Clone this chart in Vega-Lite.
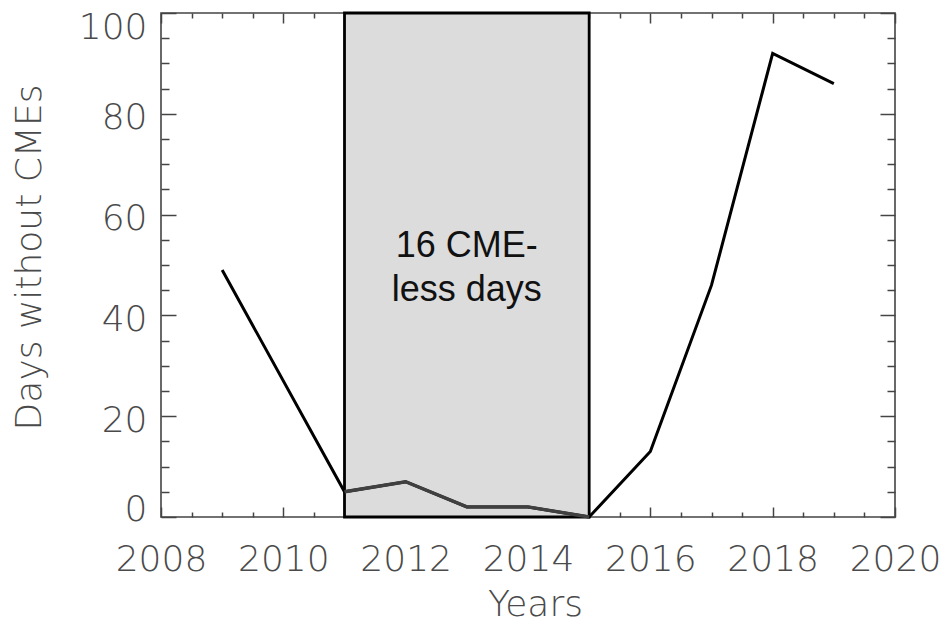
{
  "$schema": "https://vega.github.io/schema/vega-lite/v6.json",
  "width": 734,
  "height": 504,
  "autosize": "none",
  "padding": {"left": 161, "top": 13, "right": 51, "bottom": 106},
  "background": "white",
  "config": {
    "view": {"stroke": "#444444", "strokeWidth": 1.6},
    "axis": {
      "labelFont": "DejaVu Sans",
      "titleFont": "DejaVu Sans",
      "labelFontWeight": 200,
      "titleFontWeight": 200,
      "labelFontSize": 36,
      "titleFontSize": 36,
      "labelColor": "#4a4a4a",
      "titleColor": "#4a4a4a",
      "grid": false,
      "domain": false,
      "tickColor": "#444444",
      "tickWidth": 1.5,
      "zindex": 1
    }
  },
  "datasets": {
    "cmeless": [
      {"year": 2009, "days": 49},
      {"year": 2011, "days": 5},
      {"year": 2012, "days": 7},
      {"year": 2013, "days": 2},
      {"year": 2014, "days": 2},
      {"year": 2015, "days": 0},
      {"year": 2016, "days": 13},
      {"year": 2017, "days": 46},
      {"year": 2018, "days": 92},
      {"year": 2019, "days": 86}
    ],
    "window": [
      {"start": 2011, "end": 2015, "low": 0, "high": 100}
    ],
    "note": [
      {"year": 2013, "days": 51.6, "label": ["16 CME-", "less days"]}
    ]
  },
  "layer": [
    {
      "data": {"name": "window"},
      "mark": {"type": "rect", "fill": "#dcdcdc", "stroke": "#000000", "strokeWidth": 2.8},
      "encoding": {
        "x": {
          "field": "start", "type": "quantitative",
          "scale": {"domain": [2008, 2020], "nice": false, "zero": false},
          "axis": {
            "orient": "bottom", "title": "Years",
            "values": [2008, 2010, 2012, 2014, 2016, 2018, 2020],
            "format": "d", "tickSize": 10, "offset": -10, "labelPadding": 53,
            "labelBaseline": "alphabetic", "labelFlush": false,
            "titleX": 374, "titleY": 108, "titleAlign": "center",
            "titleBaseline": "alphabetic", "titleAnchor": null
          }
        },
        "x2": {"field": "end"},
        "y": {
          "field": "low", "type": "quantitative",
          "scale": {"domain": [0, 100], "nice": false},
          "axis": {
            "orient": "left", "title": "Days without CMEs",
            "values": [0, 20, 40, 60, 80, 100],
            "tickSize": 15, "offset": -15, "labelPadding": 14,
            "labelOffset": 4,
            "labelFlush": true, "labelFlushOffset": 7,
            "titleX": -136, "titleY": 244, "titleAngle": 270,
            "titleAlign": "center", "titleBaseline": "alphabetic",
            "titleAnchor": null
          }
        },
        "y2": {"field": "high"}
      }
    },
    {
      "data": {"name": "cmeless"},
      "mark": {"type": "line", "color": "#000000", "strokeWidth": 3},
      "encoding": {
        "x": {
          "field": "year", "type": "quantitative",
          "scale": {"domain": [2008, 2020], "nice": false, "zero": false},
          "axis": {
            "orient": "bottom", "title": null, "labels": false,
            "values": [2008.5, 2009, 2009.5, 2010.5, 2011, 2011.5, 2012.5, 2013, 2013.5, 2014.5, 2015, 2015.5, 2016.5, 2017, 2017.5, 2018.5, 2019, 2019.5],
            "tickSize": 5, "offset": -5
          }
        },
        "y": {
          "field": "days", "type": "quantitative",
          "scale": {"domain": [0, 100], "nice": false},
          "axis": {
            "orient": "left", "title": null, "labels": false,
            "values": [5, 10, 15, 25, 30, 35, 45, 50, 55, 65, 70, 75, 85, 90, 95],
            "tickSize": 8, "offset": -8
          }
        }
      }
    },
    {
      "data": {"name": "cmeless"},
      "transform": [{"filter": "datum.year >= 2011 && datum.year <= 2015"}],
      "mark": {"type": "line", "color": "#404040", "strokeWidth": 3.4},
      "encoding": {
        "x": {
          "field": "year", "type": "quantitative",
          "scale": {"domain": [2008, 2020], "nice": false, "zero": false},
          "axis": {
            "orient": "top", "title": null, "labels": false,
            "values": [2008, 2010, 2012, 2014, 2016, 2018, 2020],
            "tickSize": 10, "offset": -10
          }
        },
        "y": {
          "field": "days", "type": "quantitative",
          "scale": {"domain": [0, 100], "nice": false},
          "axis": {
            "orient": "right", "title": null, "labels": false,
            "values": [0, 20, 40, 60, 80, 100],
            "tickSize": 15, "offset": -15
          }
        }
      }
    },
    {
      "data": {"name": "note"},
      "mark": {
        "type": "text", "font": "Liberation Sans", "fontSize": 36,
        "color": "#111111", "align": "center", "baseline": "alphabetic",
        "lineHeight": 44
      },
      "encoding": {
        "x": {
          "field": "year", "type": "quantitative",
          "scale": {"domain": [2008, 2020], "nice": false, "zero": false},
          "axis": {
            "orient": "top", "title": null, "labels": false,
            "values": [2008.5, 2009, 2009.5, 2010.5, 2011, 2011.5, 2012.5, 2013, 2013.5, 2014.5, 2015, 2015.5, 2016.5, 2017, 2017.5, 2018.5, 2019, 2019.5],
            "tickSize": 5, "offset": -5
          }
        },
        "y": {
          "field": "days", "type": "quantitative",
          "scale": {"domain": [0, 100], "nice": false},
          "axis": {
            "orient": "right", "title": null, "labels": false,
            "values": [5, 10, 15, 25, 30, 35, 45, 50, 55, 65, 70, 75, 85, 90, 95],
            "tickSize": 8, "offset": -8
          }
        },
        "text": {"field": "label"}
      }
    }
  ],
  "resolve": {"axis": {"x": "independent", "y": "independent"}}
}
